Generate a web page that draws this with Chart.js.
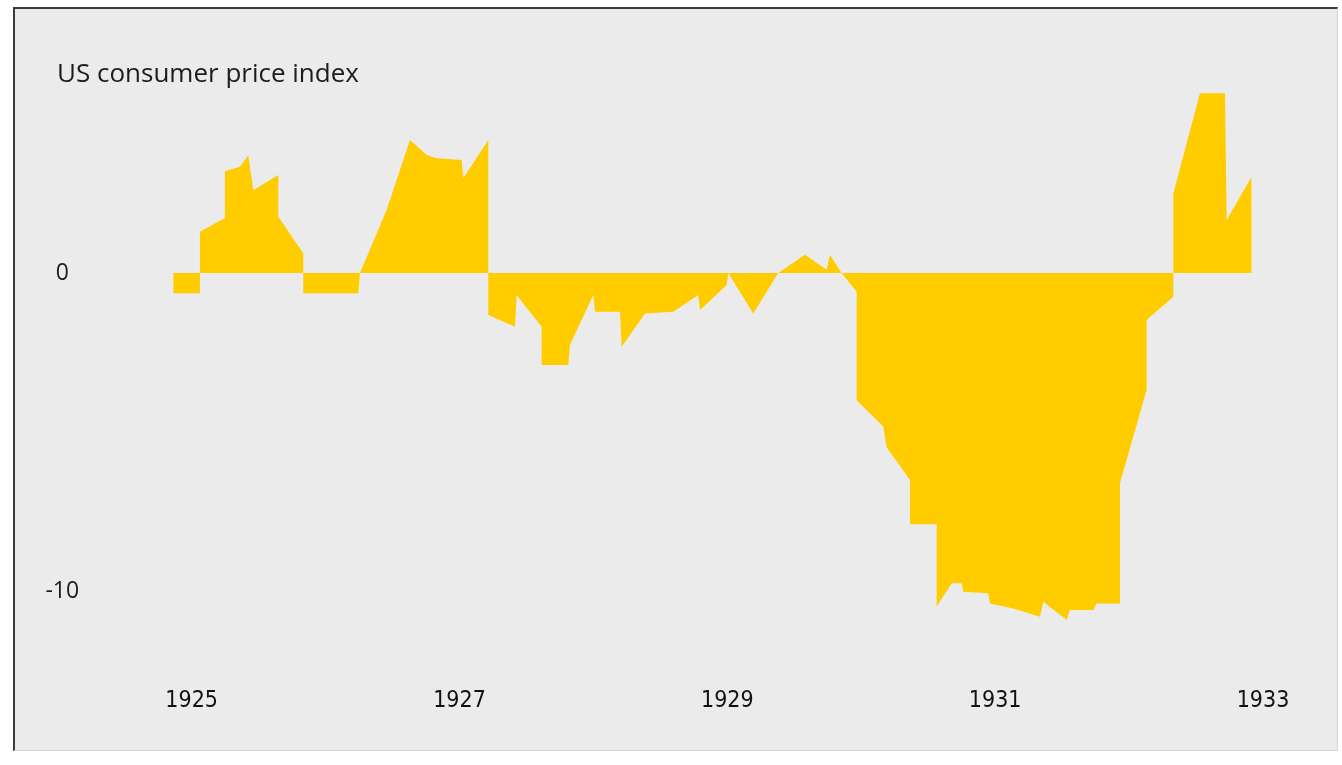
<!DOCTYPE html>
<html>
<head>
<meta charset="utf-8">
<script src="https://cdn.jsdelivr.net/npm/chart.js@4.4.1/dist/chart.umd.min.js"></script>
<style>
  html, body { margin: 0; padding: 0; background: #ffffff; }
  body { width: 1342px; height: 765px; position: relative; overflow: hidden; }
  .frame {
    position: absolute;
    left: 13px;
    top: 7px;
    width: 1322px;
    height: 741px;
    background: #ebebeb;
    border-top: 2px solid #3a3a3a;
    border-left: 2px solid #3a3a3a;
    border-right: 1px solid #d4d4d4;
    border-bottom: 1px solid #d4d4d4;
  }
  .frame canvas { display: block; }
</style>
</head>
<body>
<div class="frame">
  <canvas id="cpiChart" width="1322" height="741"></canvas>
</div>

<script>
/* =========================
    DATA
========================= */

// Position of each point, in months counted from January 1925
const monthsFrom1925 = [
  -1.65, 0.74, 0.74, 2.98, 2.98, 4.33, 5.07, 5.52, 7.76, 7.76,
  10.00, 10.00, 14.93, 15.08, 17.47, 19.56, 21.06, 21.95, 24.19, 24.34,
  26.58, 26.58, 28.97, 29.12, 31.36, 31.36, 33.75, 33.90, 35.99, 36.14,
  38.38, 38.53, 40.62, 43.15, 45.39, 45.55, 47.94, 48.08, 50.32, 52.56,
  54.95, 56.90, 57.19, 58.24, 59.59, 59.59, 61.97, 62.27, 64.37, 64.37,
  66.76, 66.76, 68.10, 69.00, 69.14, 71.38, 71.53, 73.62, 76.01, 76.31,
  78.41, 78.70, 80.79, 81.09, 83.18, 83.18, 85.57, 85.57, 87.96, 87.96,
  90.35, 92.59, 92.74, 94.98
];

// Change in US consumer prices (%)
const cpiChange = [
  -0.64, -0.64, 1.30, 1.73, 3.20, 3.34, 3.70, 2.60, 3.08, 1.77,
  0.62, -0.64, -0.64, 0.00, 1.98, 4.18, 3.71, 3.61, 3.55, 2.98,
  4.18, -1.32, -1.69, -0.69, -1.69, -2.89, -2.89, -2.26, -0.69, -1.22,
  -1.22, -2.32, -1.27, -1.22, -0.69, -1.16, -0.38, 0.00, -1.27, 0.00,
  0.57, 0.10, 0.57, 0.00, -0.59, -4.00, -4.83, -5.48, -6.51, -7.90,
  -7.90, -10.49, -9.76, -9.76, -10.02, -10.07, -10.39, -10.55, -10.81, -10.34,
  -10.91, -10.60, -10.60, -10.39, -10.39, -6.60, -3.68, -1.48, -0.75, 2.50,
  5.65, 5.65, 1.67, 3.03
];

const yearTicks = [1925, 1927, 1929, 1931, 1933];
const valueTicks = [-10, 0];

const chartTitle = "US consumer price index";


/* =========================
    CHART SETUP
========================= */

const points = monthsFrom1925.map((m, i) => ({
  x: 1925 + m / 12,
  y: cpiChange[i]
}));

// Title sits inside the plot area, so it is drawn by hand
const titlePlugin = {
  id: "cornerTitle",
  afterDraw(chart) {
    const ctx = chart.ctx;
    ctx.save();
    ctx.font = "26px 'Open Sans', sans-serif";
    ctx.fillStyle = "#1c1c1c";
    ctx.textBaseline = "alphabetic";
    ctx.textAlign = "left";
    ctx.fillText(chartTitle, 42, 72.5);
    ctx.restore();
  }
};

new Chart(document.getElementById("cpiChart"), {
  type: "line",
  data: {
    datasets: [{
      label: chartTitle,
      data: points,
      fill: "origin",
      backgroundColor: "#ffcc00",
      borderColor: "#ffcc00",
      borderWidth: 0,
      pointRadius: 0,
      tension: 0
    }]
  },
  options: {
    responsive: false,
    animation: false,
    layout: {
      padding: { top: 73.2, right: 20.4, bottom: 0, left: 0 }
    },
    plugins: {
      legend: { display: false },
      tooltip: { enabled: false },
      title: { display: false }
    },
    scales: {
      x: {
        type: "linear",
        min: 1924.6,
        max: 1933.4,
        border: { display: false },
        grid: { display: false, drawTicks: false },
        afterBuildTicks: (scale) => {
          scale.ticks = yearTicks.map(v => ({ value: v }));
        },
        afterFit: (scale) => { scale.height = 79.5; },
        ticks: {
          padding: 17,
          color: "#111111",
          font: { family: "'Liberation Sans Narrow', 'DejaVu Sans Condensed', sans-serif", size: 23 },
          callback: (v) => String(v)
        }
      },
      y: {
        type: "linear",
        min: -12.5,
        max: 6,
        border: { display: false },
        grid: { display: false, drawTicks: false },
        afterBuildTicks: (scale) => {
          scale.ticks = valueTicks.map(v => ({ value: v }));
        },
        afterFit: (scale) => { scale.width = 123.1; },
        ticks: {
          padding: 59,
          crossAlign: "center",
          color: "#1c1c1c",
          font: { family: "'Open Sans', sans-serif", size: 23 },
          callback: (v) => String(v)
        }
      }
    }
  },
  plugins: [titlePlugin]
});
</script>
</body>
</html>
